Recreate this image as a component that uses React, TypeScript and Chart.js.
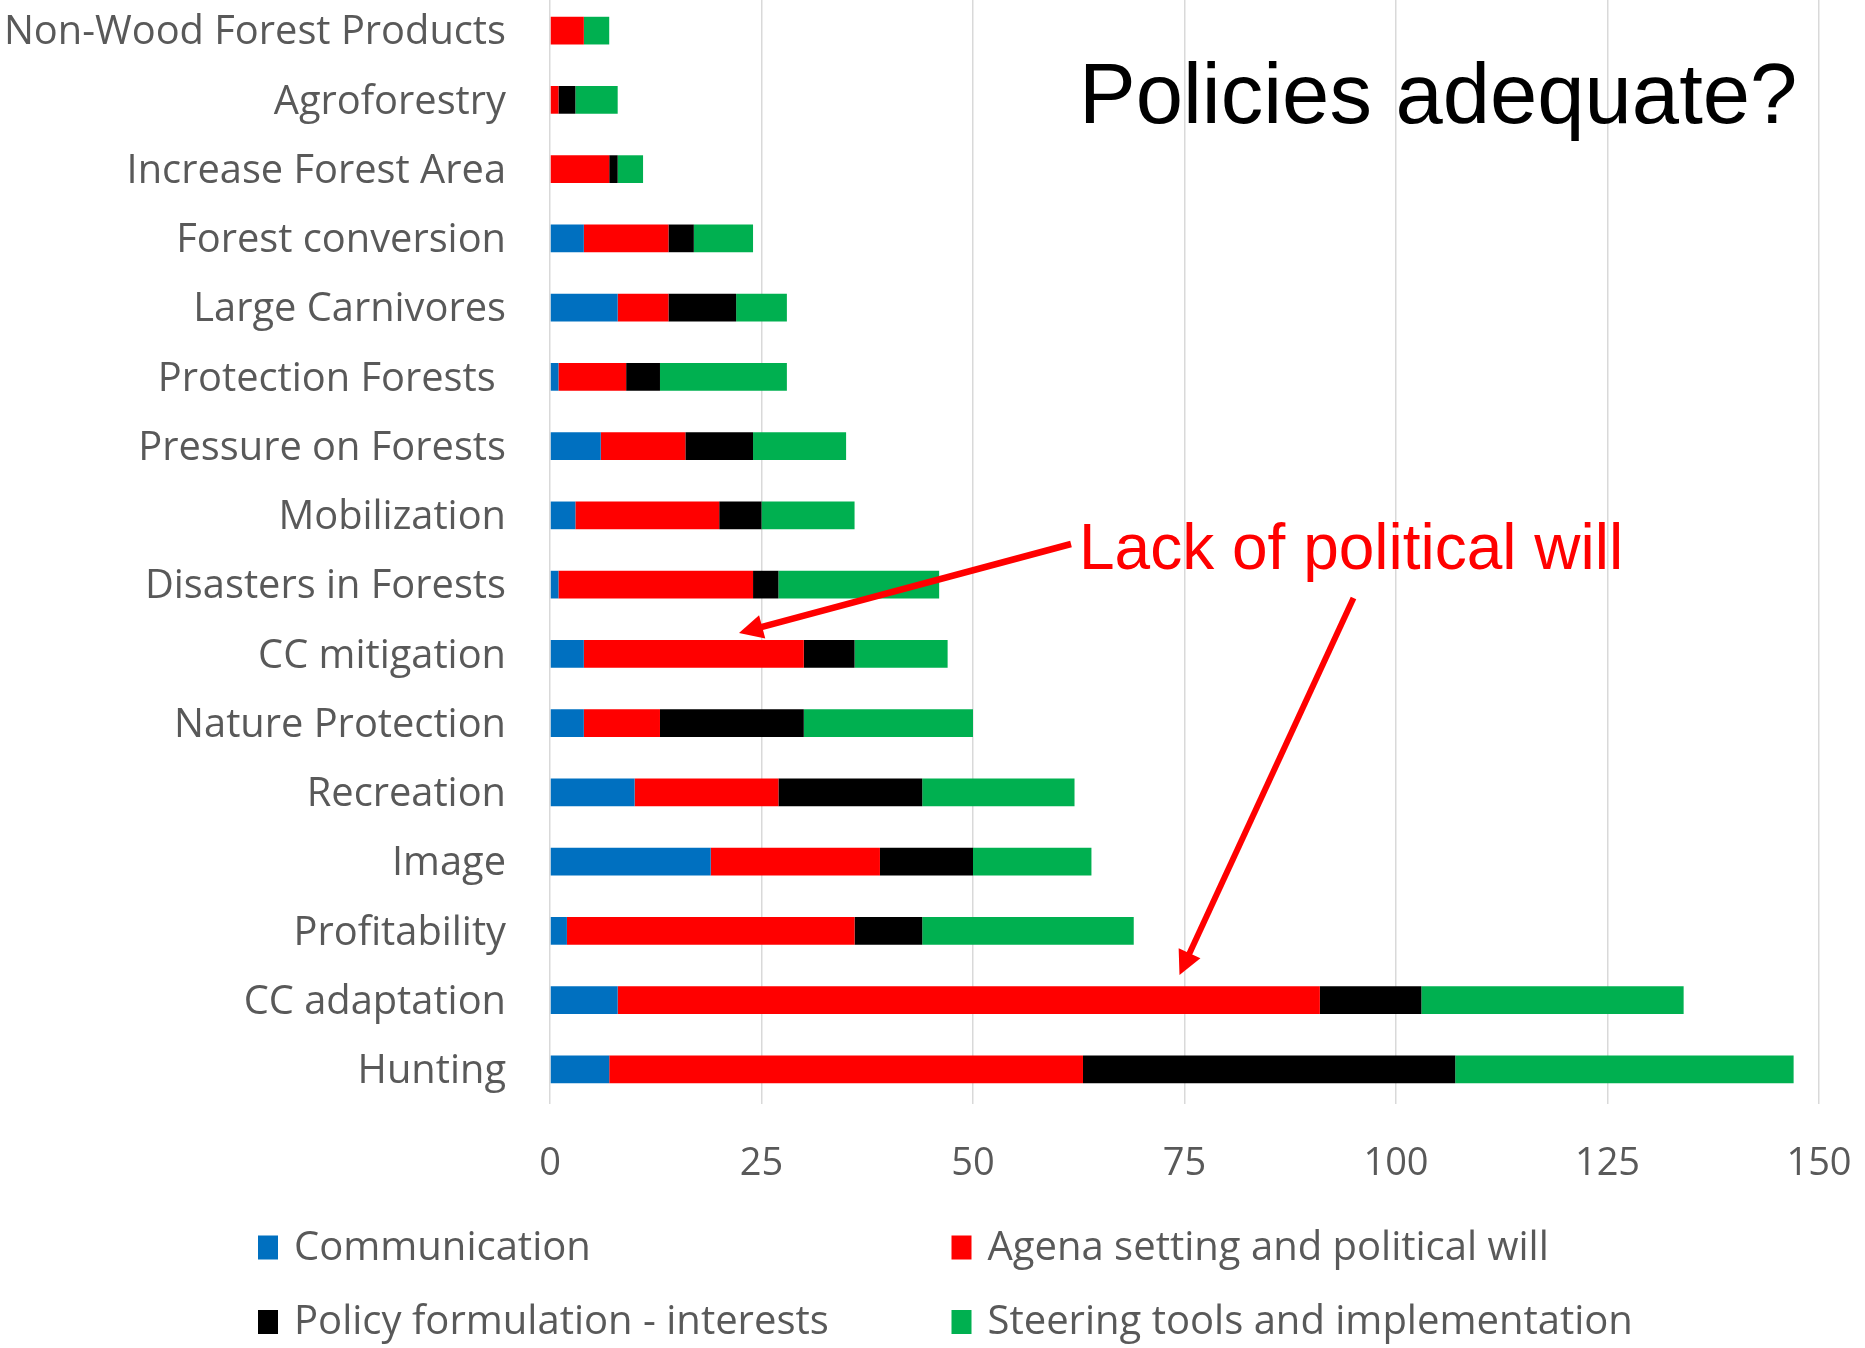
import React, { useEffect, useRef } from "react";
import { Chart, registerables } from "chart.js";

Chart.register(...registerables);

const categories = [
  "Non-Wood Forest Products",
  "Agroforestry",
  "Increase Forest Area",
  "Forest conversion",
  "Large Carnivores",
  "Protection Forests ",
  "Pressure on Forests",
  "Mobilization",
  "Disasters in Forests",
  "CC mitigation",
  "Nature Protection",
  "Recreation",
  "Image",
  "Profitability",
  "CC adaptation",
  "Hunting",
];
const communication = [0, 0, 0, 4, 8, 1, 6, 3, 1, 4, 4, 10, 19, 2, 8, 7];
const agendaSetting = [4, 1, 7, 10, 6, 8, 10, 17, 23, 26, 9, 17, 20, 34, 83, 56];
const policyFormulation = [0, 2, 1, 3, 8, 4, 8, 5, 3, 6, 17, 17, 11, 8, 12, 44];
const steeringTools = [3, 5, 3, 7, 6, 15, 11, 11, 19, 11, 20, 18, 14, 25, 31, 40];
const seriesNames = [
  "Communication",
  "Agena setting and political will",
  "Policy formulation - interests",
  "Steering tools and implementation",
];
const seriesColors = ["#0070C0", "#FF0000", "#000000", "#00B050"];
const xTickValues = [0, 25, 50, 75, 100, 125, 150];
const titleText = "Policies adequate?";
const annotationText = "Lack of political will";

const CANVAS_W = 1865;
const CANVAS_H = 1352;
const OFFSET_Y = 4; // canvas placed 4px above page top
const FONT = "'Open Sans', sans-serif";
const TEXT_GRAY = "#595959";

function drawArrow(ctx: CanvasRenderingContext2D, x1: number, y1: number, x2: number, y2: number, color: string, lw: number, headLen: number, headHalf: number) {
  const dx = x2 - x1;
  const dy = y2 - y1;
  const len = Math.sqrt(dx * dx + dy * dy);
  const ux = dx / len;
  const uy = dy / len;
  const bx = x2 - ux * headLen;
  const by = y2 - uy * headLen;
  ctx.save();
  ctx.strokeStyle = color;
  ctx.fillStyle = color;
  ctx.lineWidth = lw;
  ctx.lineCap = "butt";
  ctx.beginPath();
  ctx.moveTo(x1, y1);
  ctx.lineTo(bx + ux * 2, by + uy * 2);
  ctx.stroke();
  ctx.beginPath();
  ctx.moveTo(x2, y2);
  ctx.lineTo(bx - uy * headHalf, by + ux * headHalf);
  ctx.lineTo(bx + uy * headHalf, by - ux * headHalf);
  ctx.closePath();
  ctx.fill();
  ctx.restore();
}

const annotationPlugin = {
  id: "annotationsAndLegend",
  afterDraw(chart: any) {
    const ctx: CanvasRenderingContext2D = chart.ctx;
    const py = (y: number) => y + OFFSET_Y;
    ctx.save();
    // Title
    ctx.font = `85px 'Liberation Sans', Arial, sans-serif`;
    ctx.fillStyle = "#000000";
    ctx.textAlign = "left";
    ctx.textBaseline = "alphabetic";
    ctx.fillText(titleText, 1079, py(122.5));
    // Annotation text
    ctx.font = `64px 'Liberation Sans', Arial, sans-serif`;
    ctx.fillStyle = "#FF0000";
    ctx.fillText(annotationText, 1079, py(568.5));
    // Arrows
    drawArrow(ctx, 1071, py(544), 739, py(633), "#FF0000", 6.5, 24, 12);
    drawArrow(ctx, 1353.5, py(598), 1179.5, py(975), "#FF0000", 6, 24, 12);
    // Legend
    const ds = chart.data.datasets;
    const colX = [258, 951.5];
    const rowY = [1248.5, 1323];
    const box = 24;
    ctx.font = `40px ${FONT}`;
    ctx.textBaseline = "middle";
    ds.forEach((d: any, i: number) => {
      const cx = colX[i % 2];
      const cy = py(rowY[Math.floor(i / 2)]);
      ctx.fillStyle = d.backgroundColor;
      ctx.fillRect(cx, cy - box / 2 - 1, box - 4, box);
      ctx.fillStyle = TEXT_GRAY;
      ctx.fillText(d.label, cx + 36, cy);
    });
    ctx.restore();
  },
};

export default function App() {
  const ref = useRef<HTMLCanvasElement | null>(null);
  useEffect(() => {
    document.body.style.overflow = "hidden";
    const canvas = ref.current;
    if (!canvas) return;
    const seriesData = [communication, agendaSetting, policyFormulation, steeringTools];
    const chart = new Chart(canvas, {
      type: "bar",
      data: {
        labels: categories,
        datasets: seriesData.map((d, i) => ({
          label: seriesNames[i],
          data: d,
          backgroundColor: seriesColors[i],
          borderWidth: 0,
          barPercentage: 0.4,
          categoryPercentage: 1,
        })),
      },
      options: {
        indexAxis: "y",
        responsive: false,
        animation: false,
        devicePixelRatio: 1,
        layout: { padding: { left: 0, right: 46, top: 0, bottom: 0 } },
        plugins: {
          legend: { display: false },
          tooltip: { enabled: false },
          title: { display: false },
        },
        scales: {
          x: {
            stacked: true,
            min: 0,
            max: 150,
            afterBuildTicks: (scale: any) => {
              scale.ticks = xTickValues.map((v) => ({ value: v }));
            },
            afterFit: (scale: any) => {
              scale.height = 244;
              scale.paddingLeft = 0;
              scale.paddingRight = 0;
            },
            ticks: {
              font: { family: FONT, size: 38 },
              color: TEXT_GRAY,
              padding: 37.5,
            },
            grid: { color: "#D9D9D9", lineWidth: 1.5, drawTicks: false },
            border: { display: false },
          },
          y: {
            stacked: true,
            afterFit: (scale: any) => {
              scale.width = 550;
              scale.paddingTop = 0;
              scale.paddingBottom = 0;
            },
            ticks: {
              font: { family: FONT, size: 39.8 },
              color: TEXT_GRAY,
              padding: 44,
              labelOffset: 2.5,
            },
            grid: { display: false, drawTicks: false },
            border: { display: false },
          },
        },
      },
      plugins: [annotationPlugin],
    } as any);
    return () => chart.destroy();
  }, []);
  return (
    <div style={{ position: "absolute", left: 0, top: -OFFSET_Y, width: CANVAS_W, height: CANVAS_H }}>
      <canvas ref={ref} width={CANVAS_W} height={CANVAS_H} style={{ width: CANVAS_W, height: CANVAS_H, display: "block" }} />
    </div>
  );
}
